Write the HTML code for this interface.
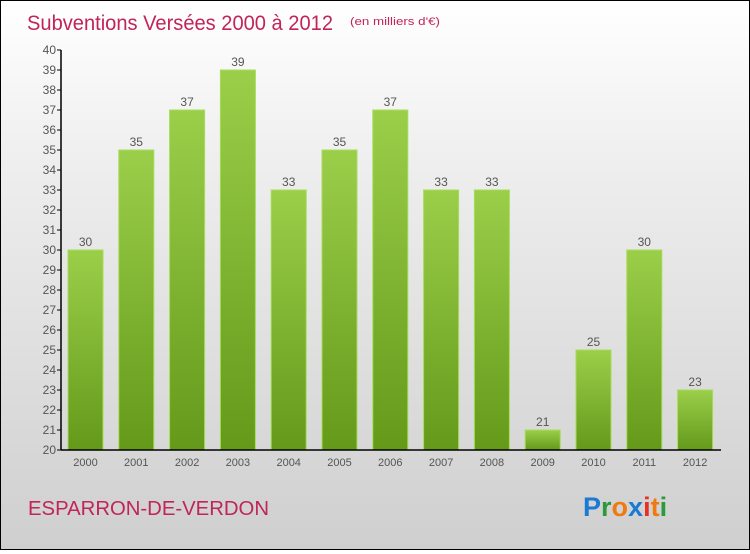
<!DOCTYPE html>
<html><head><meta charset="utf-8"><style>
html,body{margin:0;padding:0;}
body{width:750px;height:550px;overflow:hidden;font-family:"Liberation Sans",sans-serif;}
#wrap{position:relative;width:748px;height:548px;border:1px solid #000;background:linear-gradient(#fff 0%,#eee 30%,#cfcfcf 100%);}
</style></head><body>
<div id="wrap">
<svg id="chart" width="748" height="548">
<defs>
<linearGradient id="bg" x1="0" y1="0" x2="0" y2="1"><stop offset="0" stop-color="#9bcf4a"/><stop offset="1" stop-color="#64991a"/></linearGradient>
</defs>
<text x="26" y="29" font-size="21" fill="#c0245a" textLength="306" lengthAdjust="spacingAndGlyphs">Subventions Versées 2000 à 2012</text>
<text x="349" y="24" font-size="11" fill="#c0245a" textLength="90" lengthAdjust="spacingAndGlyphs">(en milliers d'€)</text>
<text x="27" y="514" font-size="20" fill="#c0245a" textLength="241" lengthAdjust="spacingAndGlyphs">ESPARRON-DE-VERDON</text>
<g font-size="27" font-weight="bold" font-family="'Liberation Sans',sans-serif">
<text x="582" y="515"><tspan fill="#1a7ad4">P</tspan><tspan fill="#2a9a3a">r</tspan><tspan fill="#f07a10">o</tspan><tspan fill="#1a7ad4">x</tspan><tspan fill="#e83020">i</tspan><tspan fill="#f07a10">t</tspan><tspan fill="#2a9a3a">i</tspan></text>
</g>
<g id="plot"></g>
</svg>
</div>
<script>
const categories=["2000","2001","2002","2003","2004","2005","2006","2007","2008","2009","2010","2011","2012"];
const values=[30,35,37,39,33,35,37,33,33,21,25,30,23];
const yTicks=[20,21,22,23,24,25,26,27,28,29,30,31,32,33,34,35,36,37,38,39,40];
const yMin=20,yMax=40;
const ns="http://www.w3.org/2000/svg";
const g=document.getElementById('plot');
const x0=60,x1=720,yTop=49,yBot=449;
function y(v){return yBot-(v-yMin)/(yMax-yMin)*(yBot-yTop);}
const step=50.8;
function xc(i){return 84.5+i*step;}
function mk(t,a){const e=document.createElementNS(ns,t);for(const k in a)e.setAttribute(k,a[k]);g.appendChild(e);return e;}
categories.forEach((c,i)=>{
 const v=values[i],w=35,x=xc(i)-w/2;
 const r=mk('rect',{x:x,y:y(v),width:w,height:yBot-y(v),fill:'url(#bg)',stroke:'#a6dc5a','stroke-width':1});
 
 
 const t=mk('text',{x:xc(i),y:y(v)-4,'text-anchor':'middle','font-size':12,fill:'#555'});
 t.textContent=v;
 
 
 const l=mk('text',{x:xc(i),y:yBot+16,'text-anchor':'middle','font-size':11,fill:'#555'});
 l.textContent=c;
 
 
});
yTicks.forEach(v=>{
 const tk=mk('line',{x1:x0-4,x2:x0,y1:y(v),y2:y(v),stroke:'#000'});
 
 
 const t=mk('text',{x:x0-5,y:y(v)+4,'text-anchor':'end','font-size':12,fill:'#555'});
 t.textContent=v;
 
 
});
const ya=mk('line',{x1:x0,x2:x0,y1:yTop,y2:yBot,stroke:'#000','stroke-width':1.5});


const xa=mk('line',{x1:x0,x2:x1,y1:yBot,y2:yBot,stroke:'#000','stroke-width':1.5});


</script>
</body></html>
